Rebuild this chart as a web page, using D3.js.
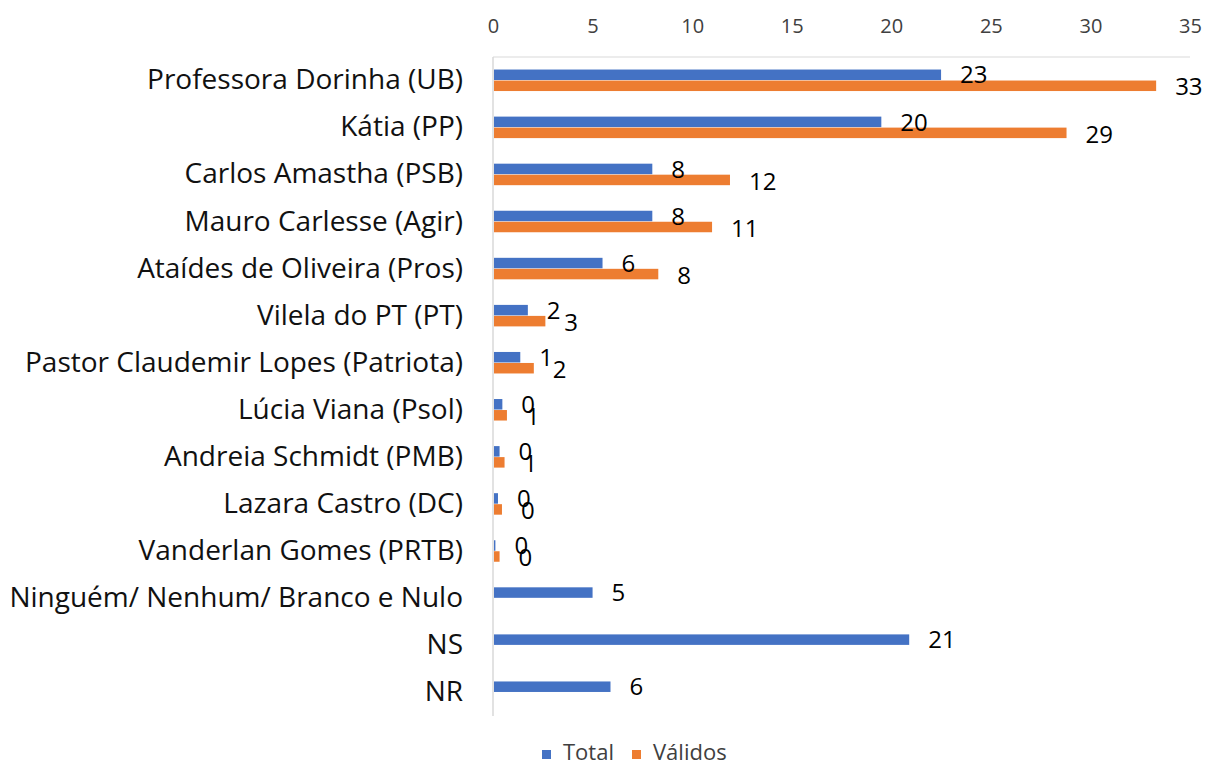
<!DOCTYPE html>
<html>
<head>
<meta charset="utf-8">
<script src="https://cdn.jsdelivr.net/npm/d3@7"></script>
<style>
  body { margin: 0; background: #fff; }
  text { font-family: "Open Sans", sans-serif; }
</style>
</head>
<body>
<div class="chart"></div>
<script>
// data
var categories = ["Professora Dorinha (UB)", "Kátia (PP)", "Carlos Amastha (PSB)", "Mauro Carlesse (Agir)",
  "Ataídes de Oliveira (Pros)", "Vilela do PT (PT)", "Pastor Claudemir Lopes (Patriota)", "Lúcia Viana (Psol)",
  "Andreia Schmidt (PMB)", "Lazara Castro (DC)", "Vanderlan Gomes (PRTB)", "Ninguém/ Nenhum/ Branco e Nulo", "NS", "NR"]
var total = [22.5, 19.5, 8.0, 8.0, 5.5, 1.75, 1.37, 0.47, 0.33, 0.25, 0.12, 5.0, 20.9, 5.9]
var validos = [33.3, 28.8, 11.9, 11.0, 8.3, 2.63, 2.05, 0.7, 0.58, 0.45, 0.33, null, null, null]
var series = ["Total", "Válidos"]
var colors = ["#4472C4", "#ED7D31"]
var ticks = [0, 5, 10, 15, 20, 25, 30, 35]

var width = 1209,
    height = 767,
    margin = {top: 57, right: 19, bottom: 51, left: 493}

var svg = d3.select(".chart")
  .append("svg")
    .attr("width", width)
    .attr("height", height)

var x = d3.scaleLinear()
  .domain([0, 35])
  .range([margin.left, width - margin.right])

var y = d3.scaleBand()
  .domain(categories)
  .range([margin.top, height - margin.bottom])

var ySub = d3.scaleBand()
  .domain(series)
  .range([y.bandwidth() / 2 - 11, y.bandwidth() / 2 + 11])

// top line and zero axis line
svg.append("line")
  .attr("x1", x(0)).attr("x2", x(35))
  .attr("y1", margin.top).attr("y2", margin.top)
  .attr("stroke", "#d9d9d9").attr("stroke-width", 1)
svg.append("line")
  .attr("x1", x(0)).attr("x2", x(0))
  .attr("y1", margin.top).attr("y2", height - margin.bottom)
  .attr("stroke", "#d9d9d9").attr("stroke-width", 1.5)

// x axis on top
var xAxis = svg.append("g")
  .attr("transform", "translate(0," + 26 + ")")
  .call(d3.axisTop(x).tickValues(ticks).tickSize(0).tickPadding(0))
xAxis.select(".domain").remove()
xAxis.selectAll("text")
  .attr("dy", "0.35em")
  .style("font-size", "20px")
  .style("fill", "#404040")

// category labels
svg.selectAll(".cat")
  .data(categories)
  .enter()
  .append("text")
    .attr("class", "cat")
    .attr("x", margin.left - 30)
    .attr("y", function(d) { return y(d) + y.bandwidth() / 2 - 1 })
    .attr("dy", "0.35em")
    .attr("text-anchor", "end")
    .style("font-size", "28px")
    .style("fill", "#111")
    .text(function(d) { return d })

var rows = [total, validos]
var rowData = rows.map(function(vals) {
  return categories.map(function(c, i) { return {cat: c, value: vals[i]} })
    .filter(function(d) { return d.value != null })
})

// bars first
rowData.forEach(function(data, s) {
  svg.selectAll(".bar" + s)
    .data(data)
    .enter()
    .append("rect")
      .attr("class", "bar" + s)
      .attr("x", x(0) + 1)
      .attr("y", function(d) { return y(d.cat) + ySub(series[s]) })
      .attr("width", function(d) { return x(d.value) - x(0) - 1 })
      .attr("height", ySub.bandwidth() - 0.5)
      .attr("fill", colors[s])
})

// then the value labels on top
rowData.forEach(function(data, s) {
  svg.selectAll(".lab" + s)
    .data(data)
    .enter()
    .append("text")
      .attr("class", "lab" + s)
      .attr("x", function(d) { return x(d.value) + 19 })
      .attr("y", function(d) { return y(d.cat) + ySub(series[s]) + ySub.bandwidth() / 2 + (s ? 1 : 0) })
      .attr("dy", "0.35em")
      .style("font-size", "24px")
      .style("fill", "#000")
      .text(function(d) { return Math.round(d.value) })
})

// legend
var legend = svg.append("g")
  .attr("transform", "translate(542,753)")
var lx = [0, 90]
series.forEach(function(s, i) {
  legend.append("rect")
    .attr("x", lx[i]).attr("y", -3)
    .attr("width", 9).attr("height", 9)
    .attr("fill", colors[i])
  legend.append("text")
    .attr("x", lx[i] + 21).attr("y", 7)
    .style("font-size", "22px")
    .style("fill", "#404040")
    .text(s)
})
</script>
</body>
</html>
